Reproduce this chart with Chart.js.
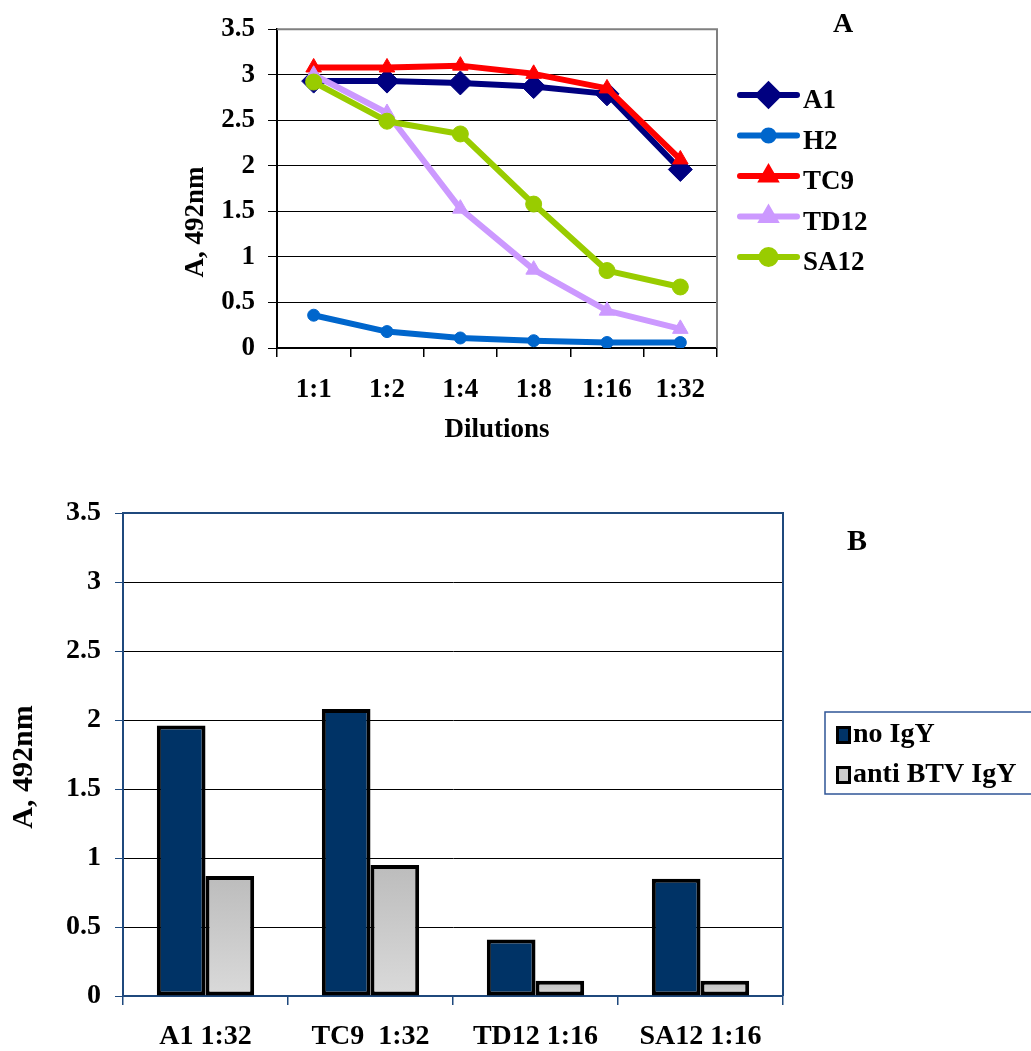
<!DOCTYPE html>
<html>
<head>
<meta charset="utf-8">
<script src="https://cdn.jsdelivr.net/npm/chart.js@4.4.1/dist/chart.umd.min.js"></script>
<style>
  html, body { margin: 0; padding: 0; background: #fff; }
  #wrapA { position: absolute; left: 0; top: 0; width: 1031px; height: 470px; }
  #wrapB { position: absolute; left: 0; top: 470px; width: 1031px; height: 581px; }
</style>
</head>
<body>
<div id="wrapA"><canvas id="chartA" width="1031" height="470"></canvas></div>
<div id="wrapB"><canvas id="chartB" width="1031" height="581"></canvas></div>
<script>
// Panel A: absorbance of each antibody over serial dilutions
const dilutions = ['1:1', '1:2', '1:4', '1:8', '1:16', '1:32'];
const a1   = [2.93, 2.93, 2.91, 2.87, 2.79, 1.96];
const h2   = [0.36, 0.18, 0.11, 0.08, 0.06, 0.06];
const tc9  = [3.08, 3.08, 3.10, 3.01, 2.85, 2.07];
const td12 = [3.00, 2.58, 1.53, 0.86, 0.41, 0.21];
const sa12 = [2.92, 2.49, 2.35, 1.58, 0.85, 0.67];

// Panel B: absorbance with and without anti-BTV IgY
const samples  = ['A1 1:32', 'TC9  1:32', 'TD12 1:16', 'SA12 1:16'];
const noIgY    = [1.96, 2.08, 0.41, 0.85];
const antiIgY  = [0.87, 0.95, 0.11, 0.11];

// Shared y axis range
const yMin = 0, yMax = 3.5, yStep = 0.5;
const yTickLabel = v => String(Number(Number(v).toFixed(1)));

const SERIF = "'Liberation Serif', 'Times New Roman', serif";
const fontA = { family: SERIF, size: 27, weight: 'bold' };
const fontB = { family: SERIF, size: 28, weight: 'bold' };

// Frame on the top and right edges of the plot area
const frameLines = {
  id: 'frameLines',
  beforeDatasetsDraw(chart, args, opts) {
    const { ctx, chartArea: a } = chart;
    ctx.save();
    ctx.strokeStyle = opts.color;
    ctx.lineWidth = opts.width;
    ctx.beginPath();
    ctx.moveTo(a.left, a.top);
    ctx.lineTo(a.right, a.top);
    ctx.lineTo(a.right, a.bottom);
    ctx.stroke();
    ctx.restore();
  }
};

// Free text: panel letters and rotated axis titles
const freeText = {
  id: 'freeText',
  afterDraw(chart, args, opts) {
    const ctx = chart.ctx;
    (opts.items || []).forEach(it => {
      ctx.save();
      ctx.font = `bold ${it.size}px ${SERIF}`;
      ctx.fillStyle = '#000';
      ctx.textAlign = 'center';
      ctx.textBaseline = 'middle';
      ctx.translate(it.x, it.y);
      if (it.rotate) ctx.rotate(it.rotate);
      ctx.fillText(it.text, 0, 0);
      ctx.restore();
    });
  }
};

// Line legend with the marker drawn in the middle of each swatch
const lineLegend = {
  id: 'lineLegend',
  afterDraw(chart, args, opts) {
    const ctx = chart.ctx;
    chart.data.datasets.forEach((ds, i) => {
      const y = opts.top + i * opts.gap;
      ctx.save();
      ctx.strokeStyle = ds.borderColor;
      ctx.fillStyle = ds.borderColor;
      ctx.lineWidth = 6;
      ctx.lineCap = 'round';
      ctx.beginPath();
      ctx.moveTo(opts.x0, y);
      ctx.lineTo(opts.x1, y);
      ctx.stroke();
      Chart.helpers.drawPoint(ctx, {
        pointStyle: ds.pointStyle,
        radius: opts.markerRadius[i],
        rotation: 0,
        borderWidth: 1
      }, (opts.x0 + opts.x1) / 2, y);
      ctx.font = `bold ${opts.fontSize}px ${SERIF}`;
      ctx.fillStyle = '#000';
      ctx.textAlign = 'left';
      ctx.textBaseline = 'alphabetic';
      ctx.fillText(ds.label, opts.textX, y + opts.baseline);
      ctx.restore();
    });
  }
};

// Boxed legend with square swatches
const boxLegend = {
  id: 'boxLegend',
  afterDraw(chart, args, opts) {
    const ctx = chart.ctx;
    ctx.save();
    ctx.strokeStyle = opts.borderColor;
    ctx.lineWidth = 1.5;
    ctx.strokeRect(opts.left, opts.top, opts.right - opts.left, opts.bottom - opts.top);
    chart.data.datasets.forEach((ds, i) => {
      const base = opts.firstBaseline + i * opts.gap;
      const sy = base - opts.swatchH + 2;
      ctx.fillStyle = '#000';
      ctx.fillRect(opts.swatchX, sy, opts.swatchW, opts.swatchH);
      ctx.fillStyle = opts.swatchColors[i];
      ctx.fillRect(opts.swatchX + 3, sy + 3, opts.swatchW - 6, opts.swatchH - 6);
      ctx.font = `bold ${opts.fontSize}px ${SERIF}`;
      ctx.fillStyle = '#000';
      ctx.textAlign = 'left';
      ctx.textBaseline = 'alphabetic';
      ctx.fillText(ds.label, opts.textX, base);
    });
    ctx.restore();
  }
};

function lineSet(label, data, color, style, radius, order) {
  return {
    label, data,
    borderColor: color, backgroundColor: color,
    pointBackgroundColor: color, pointBorderColor: color,
    borderWidth: 6, tension: 0,
    pointStyle: style, pointRadius: radius, pointBorderWidth: 1,
    borderJoinStyle: 'round', borderCapStyle: 'round',
    order
  };
}

new Chart(document.getElementById('chartA'), {
  type: 'line',
  data: {
    labels: dilutions,
    datasets: [
      lineSet('A1', a1, '#000080', 'rectRot', 12, 5),
      lineSet('H2', h2, '#0066cc', 'circle', 6, 4),
      lineSet('TC9', tc9, '#ff0000', 'triangle', 9, 3),
      lineSet('TD12', td12, '#cc99ff', 'triangle', 9, 2),
      lineSet('SA12', sa12, '#99cc00', 'circle', 8, 1)
    ]
  },
  options: {
    responsive: false,
    animation: false,
    layout: { padding: { left: 0, right: 314, top: 17, bottom: 0 } },
    plugins: {
      legend: { display: false },
      tooltip: { enabled: false },
      frameLines: { color: '#808080', width: 2 },
      freeText: {
        items: [
          { text: 'A', x: 843, y: 25, size: 28 },
          { text: 'A, 492nm', x: 196, y: 222, size: 27, rotate: -Math.PI / 2 }
        ]
      },
      lineLegend: {
        top: 95, gap: 40.5, x0: 740, x1: 797, textX: 803, baseline: 13, fontSize: 27,
        markerRadius: [10, 5, 7, 7, 7]
      }
    },
    scales: {
      x: {
        type: 'category',
        offset: true,
        afterFit(scale) { scale.height = 122; },
        grid: { offset: true, drawOnChartArea: false, drawTicks: true, tickLength: 9, color: '#000', lineWidth: 1.5 },
        border: { color: '#000', width: 1.5 },
        ticks: { font: fontA, color: '#000', padding: 17, maxRotation: 0 },
        title: { display: true, text: 'Dilutions', font: fontA, color: '#000', padding: { top: 0, bottom: 24 } }
      },
      y: {
        min: yMin, max: yMax,
        afterFit(scale) { scale.width = 277; },
        grid: { color: '#000', lineWidth: 1, tickLength: 9, drawTicks: true },
        border: { color: '#000', width: 2 },
        ticks: { stepSize: yStep, font: fontA, color: '#000', padding: 13, callback: yTickLabel }
      }
    }
  },
  plugins: [frameLines, freeText, lineLegend]
});

function lightBarFill(ctx) {
  const chart = ctx.chart;
  if (!chart.chartArea || ctx.type !== 'data') return '#cccccc';
  const y = chart.scales.y;
  const top = y.getPixelForValue(ctx.raw);
  const base = y.getPixelForValue(0);
  const g = chart.ctx.createLinearGradient(0, top, 0, base);
  g.addColorStop(0, '#bcbcbc');
  g.addColorStop(1, '#dadada');
  return g;
}

new Chart(document.getElementById('chartB'), {
  type: 'bar',
  data: {
    labels: samples,
    datasets: [
      { label: 'no IgY', data: noIgY, backgroundColor: '#003366', borderColor: '#000', borderWidth: 4, borderSkipped: false },
      { label: 'anti BTV IgY', data: antiIgY, backgroundColor: lightBarFill, borderColor: '#000', borderWidth: 4, borderSkipped: false }
    ]
  },
  options: {
    responsive: false,
    animation: false,
    datasets: { bar: { categoryPercentage: 0.59, barPercentage: 1.0 } },
    layout: { padding: { left: 0, right: 248, top: 43, bottom: 0 } },
    plugins: {
      legend: { display: false },
      tooltip: { enabled: false },
      frameLines: { color: '#1f497d', width: 2 },
      freeText: {
        items: [
          { text: 'B', x: 857, y: 72, size: 30 },
          { text: 'A, 492nm', x: 24, y: 297, size: 30, rotate: -Math.PI / 2 }
        ]
      },
      boxLegend: {
        left: 825, top: 242, right: 1040, bottom: 324, borderColor: '#2f5597',
        swatchX: 836, swatchW: 15, swatchH: 18, swatchColors: ['#003366', '#cccccc'],
        textX: 853, firstBaseline: 272, gap: 40, fontSize: 28
      }
    },
    scales: {
      x: {
        afterFit(scale) { scale.height = 55; },
        grid: { offset: true, drawOnChartArea: false, drawTicks: true, tickLength: 9, color: '#1f497d', lineWidth: 1.5 },
        border: { color: '#1f497d', width: 2 },
        ticks: { font: fontB, color: '#000', padding: 15, maxRotation: 0 }
      },
      y: {
        min: yMin, max: yMax,
        afterFit(scale) { scale.width = 123; },
        grid: { color: '#000', lineWidth: 1, tickLength: 8, drawTicks: true, tickColor: '#1f497d' },
        border: { color: '#1f497d', width: 2 },
        ticks: { stepSize: yStep, font: fontB, color: '#000', padding: 14, callback: yTickLabel }
      }
    }
  },
  plugins: [frameLines, freeText, boxLegend]
});
</script>
</body>
</html>
